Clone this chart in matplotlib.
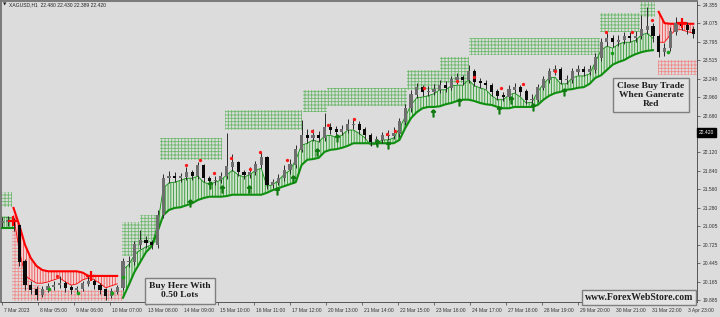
import matplotlib.pyplot as plt
import numpy as np
from matplotlib.transforms import blended_transform_factory, ScaledTranslation

plt.rcParams['hatch.linewidth'] = 0.6

BG = '#dcdcdc'

# 4-hour candles, XAGUSD H1 chart (7 Mar - 3 Apr 2023)
first_open = 21.05
closes = [21.07, 21.08, 21.01, 20.46, 20.11, 20.04, 19.96, 20.04, 20.08, 20.11,
          20.14, 20.07, 20.04, 20.05, 20.13, 20.17, 20.11, 20.04, 19.95, 20.01,
          20.07, 20.46, 20.46, 20.72, 20.79, 20.75, 20.72, 21.17, 21.73, 21.76,
          21.73, 21.75, 21.82, 21.76, 21.92, 21.73, 21.69, 21.70, 21.76, 21.90,
          21.96, 21.82, 21.78, 21.82, 21.93, 22.04, 21.63, 21.66, 21.73, 21.85,
          21.93, 22.16, 22.38, 22.34, 22.38, 22.34, 22.49, 22.46, 22.43, 22.46,
          22.54, 22.54, 22.46, 22.38, 22.28, 22.31, 22.37, 22.37, 22.40, 22.58,
          22.79, 22.99, 23.10, 23.04, 23.04, 23.07, 23.14, 23.10, 23.22, 23.25,
          23.22, 23.34, 23.19, 23.17, 23.14, 23.04, 22.98, 22.96, 23.07, 23.10,
          23.04, 22.92, 22.92, 23.10, 23.22, 23.34, 23.37, 23.22, 23.22, 23.34,
          23.37, 23.34, 23.37, 23.55, 23.79, 23.85, 23.79, 23.82, 23.88, 23.85,
          23.88, 23.98, 24.02, 23.88, 23.64, 23.70, 23.95, 24.07, 24.04, 23.98,
          23.92]
highs = [21.14, 21.16, 21.13, 21.04, 20.50, 20.18, 20.09, 20.10, 20.14, 20.17,
         20.25, 20.18, 20.11, 20.10, 20.18, 20.25, 20.21, 20.14, 20.07, 20.06,
         20.12, 20.52, 20.55, 20.78, 20.94, 20.85, 20.80, 21.25, 21.80, 21.84,
         21.82, 21.81, 21.90, 21.86, 21.97, 21.95, 21.77, 21.76, 21.83, 22.42,
         22.10, 21.99, 21.86, 21.90, 21.99, 22.12, 22.07, 21.72, 21.80, 21.93,
         22.02, 22.24, 22.61, 22.48, 22.47, 22.44, 22.72, 22.57, 22.52, 22.53,
         22.62, 22.64, 22.59, 22.50, 22.42, 22.37, 22.43, 22.46, 22.50, 22.65,
         22.86, 23.07, 23.17, 23.15, 23.12, 23.16, 23.22, 23.20, 23.28, 23.32,
         23.30, 23.44, 23.38, 23.25, 23.22, 23.18, 23.08, 23.04, 23.14, 23.18,
         23.15, 23.08, 23.00, 23.16, 23.28, 23.40, 23.44, 23.41, 23.30, 23.40,
         23.45, 23.43, 23.44, 23.62, 23.86, 23.93, 23.90, 23.90, 23.95, 23.94,
         23.96, 24.20, 24.33, 24.08, 23.92, 23.78, 24.02, 24.17, 24.12, 24.09,
         24.03]
lows = [20.99, 21.00, 20.93, 20.40, 20.03, 19.98, 19.89, 19.93, 20.00, 20.03,
        20.06, 20.01, 19.98, 19.99, 20.02, 20.09, 20.05, 19.98, 19.89, 19.92,
        19.97, 20.04, 20.38, 20.42, 20.66, 20.68, 20.66, 20.68, 21.12, 21.66,
        21.67, 21.67, 21.70, 21.70, 21.72, 21.67, 21.62, 21.63, 21.66, 21.72,
        21.84, 21.76, 21.72, 21.74, 21.78, 21.88, 21.57, 21.58, 21.62, 21.69,
        21.80, 21.89, 22.12, 22.27, 22.29, 22.28, 22.30, 22.40, 22.37, 22.38,
        22.41, 22.47, 22.40, 22.32, 22.22, 22.23, 22.26, 22.31, 22.32, 22.35,
        22.53, 22.74, 22.94, 22.98, 22.97, 22.99, 23.02, 23.04, 23.06, 23.16,
        23.15, 23.18, 23.12, 23.10, 23.08, 22.98, 22.91, 22.90, 22.92, 23.02,
        22.98, 22.86, 22.86, 22.88, 23.06, 23.18, 23.29, 23.16, 23.16, 23.18,
        23.29, 23.28, 23.30, 23.32, 23.50, 23.74, 23.72, 23.74, 23.77, 23.79,
        23.80, 23.84, 23.92, 23.80, 23.57, 23.58, 23.66, 23.90, 23.97, 23.92,
        23.86]

# band indicator: stop line (thick) and inner edge (thin), per 4h bar
green1_start = 0
green1_stop = [20.98, 20.98, 20.98]
green1_edge = [21.14, 21.14, 21.12]

red1_start = 2
red1_stop = [21.28, 21.02, 20.72, 20.52, 20.40, 20.34, 20.32, 20.32, 20.32, 20.32,
             20.32, 20.32, 20.30, 20.25, 20.25, 20.25, 20.25, 20.25, 20.25]
red1_edge = [21.16, 20.64, 20.26, 20.19, 20.14, 20.14, 20.16, 20.19, 20.22, 20.16,
             20.11, 20.13, 20.19, 20.22, 20.19, 20.14, 20.07, 20.10, 20.13]

green2_start = 21
green2_stop = [19.92, 20.11, 20.31, 20.46, 20.61, 20.70, 20.92, 21.17, 21.25, 21.28,
               21.29, 21.32, 21.35, 21.40, 21.43, 21.45, 21.45, 21.45, 21.46, 21.48,
               21.48, 21.48, 21.48, 21.48, 21.48, 21.51, 21.55, 21.58, 21.61, 21.64,
               21.67, 21.93, 22.01, 22.02, 22.04, 22.13, 22.16, 22.17, 22.19, 22.22,
               22.26, 22.26, 22.26, 22.26, 22.26, 22.26, 22.26, 22.26, 22.31, 22.49,
               22.64, 22.73, 22.79, 22.81, 22.81, 22.82, 22.85, 22.87, 22.90, 22.92,
               22.92, 22.90, 22.87, 22.85, 22.84, 22.81, 22.79, 22.79, 22.81, 22.81,
               22.81, 22.81, 22.84, 22.92, 22.98, 23.02, 23.04, 23.07, 23.08, 23.10,
               23.11, 23.16, 23.25, 23.29, 23.37, 23.45, 23.49, 23.52, 23.57, 23.61,
               23.64, 23.66, 23.67]
green2_edge = [20.34, 20.42, 20.57, 20.64, 20.69, 20.72, 21.02, 21.58, 21.66, 21.67,
               21.70, 21.73, 21.73, 21.76, 21.67, 21.64, 21.67, 21.70, 21.78, 21.85,
               21.78, 21.75, 21.78, 21.85, 21.88, 21.61, 21.63, 21.70, 21.79, 21.85,
               22.01, 22.23, 22.26, 22.31, 22.28, 22.37, 22.38, 22.35, 22.38, 22.46,
               22.46, 22.41, 22.34, 22.23, 22.25, 22.31, 22.31, 22.34, 22.49, 22.66,
               22.84, 22.95, 22.96, 22.98, 23.01, 23.07, 23.07, 23.13, 23.14, 23.14,
               23.22, 23.13, 23.10, 23.07, 22.98, 22.92, 22.92, 22.99, 23.02, 22.96,
               22.87, 22.88, 23.04, 23.16, 23.25, 23.26, 23.16, 23.16, 23.25, 23.28,
               23.28, 23.31, 23.49, 23.67, 23.73, 23.70, 23.76, 23.79, 23.79, 23.82,
               23.90, 23.93, 23.85]

red2_start = 114
red2_stop = [24.25, 24.08, 24.07, 24.07, 24.07, 24.07, 24.07]
red2_edge = [23.79, 23.79, 23.90, 23.98, 23.98, 23.95, 23.93]

# dotted target zones: (from hour, to hour, low, high)
green_zones = [(-1, 7, 21.29, 21.52), (83, 96, 20.55, 21.07), (96, 108, 20.75, 21.17),
               (110, 153, 22.01, 22.34), (155, 208, 22.46, 22.765), (209, 226, 22.73, 23.07),
               (226, 281, 22.82, 23.10), (281, 304, 23.07, 23.37), (304, 324, 23.17, 23.57),
               (324, 415, 23.60, 23.85), (415, 443, 23.945, 24.23), (443, 453.5, 24.17, 24.41)]
red_zones = [(7, 12.5, 19.87, 21.05), (12.5, 20, 19.87, 20.55), (20, 27, 19.87, 20.12),
             (27, 84, 19.87, 20.03), (455.5, 483, 23.30, 23.52)]

# signal markers (hour, price)
red_dot_h = [38.2, 127.8, 137.5, 147.2, 159, 172.2, 179.2, 198, 215.3, 226.4, 244.4,
             267.4, 272.9, 293, 316, 327.8, 346.5, 361.8, 384, 419.4, 437.5, 451.4]
red_dot_p = [20.25, 21.93, 22.00, 21.81, 22.04, 21.87, 22.13, 22.01, 22.45, 22.54, 22.62,
             22.40, 22.45, 23.09, 23.21, 23.27, 23.09, 23.16, 23.36, 23.95, 23.95, 24.12]
red_cross_h = [7.6, 61.8, 472.2]
red_cross_p = [21.08, 20.25, 24.08]
arrow_h = [130.6, 144.4, 152.8, 171.5, 191, 202, 218.8, 232.6, 260.4, 268, 299.3,
           317.4, 345.1, 353.5, 368.8, 390.3]
arrow_p = [21.355, 21.63, 21.57, 21.57, 21.54, 21.72, 22.13, 22.34, 22.26, 22.23, 22.72,
           22.885, 22.765, 22.915, 22.81, 23.04]
green_dot_h = [32.6, 52.8, 76.4, 84, 423.6, 462.5]
green_dot_p = [20.05, 19.99, 19.99, 20.23, 23.63, 23.64]

ytick_vals = [24.355, 24.075, 23.795, 23.515, 23.240, 22.960, 22.680, 22.120,
              21.840, 21.560, 21.280, 21.005, 20.725, 20.445, 20.165, 19.885]
xtick_labels = ['7 Mar 2023', '8 Mar 05:00', '9 Mar 06:00', '10 Mar 07:00', '13 Mar 08:00',
                '14 Mar 09:00', '15 Mar 10:00', '16 Mar 11:00', '17 Mar 12:00', '20 Mar 13:00',
                '21 Mar 14:00', '22 Mar 15:00', '23 Mar 16:00', '24 Mar 17:00', '27 Mar 18:00',
                '28 Mar 19:00', '29 Mar 20:00', '30 Mar 21:00', '31 Mar 22:00', '3 Apr 23:00']
last_price = 22.420

fig = plt.figure(figsize=(7.2, 3.17), dpi=100, facecolor=BG)
ax = fig.add_axes([1 / 720, 15 / 317, 696 / 720, 301 / 317], facecolor=BG)

hours = np.arange(len(closes)) * 4
opens = np.array([first_open] + closes[:-1])
closes_a = np.array(closes)

# zones
for h0, h1, lo, hi in green_zones:
    ax.fill_between([h0, h1], [lo, lo], [hi, hi], facecolor='none', edgecolor='#6dba6d',
                    hatch='+++++', linewidth=0, zorder=1)
for h0, h1, lo, hi in red_zones:
    ax.fill_between([h0, h1], [lo, lo], [hi, hi], facecolor='none', edgecolor='#f08c8c',
                    hatch='+++++', linewidth=0, zorder=1)

# bands
def band(start, stop, edge, up):
    x = hours[start:start + len(stop)]
    if up:
        face, hcol, line = '#d0e4d0', '#2f942f', '#0f8f0f'
    else:
        face, hcol, line = '#f3d3d3', '#ec4c4c', '#ff0000'
    ax.fill_between(x, stop, edge, facecolor=face, edgecolor=hcol, hatch='||||||',
                    linewidth=0, zorder=2)
    ax.plot(x, edge, color=line, lw=0.6, zorder=3)
    ax.plot(x, stop, color=line, lw=1.5, zorder=3)

band(green1_start, green1_stop, green1_edge, True)
band(red1_start, red1_stop, red1_edge, False)
band(green2_start, green2_stop, green2_edge, True)
band(red2_start, red2_stop, red2_edge, False)

# candles
up = closes_a >= opens
ax.vlines(hours, lows, highs, color='#2a2a2a', lw=0.7, zorder=4)
ax.bar(hours, np.abs(closes_a - opens) + 0.01, bottom=np.minimum(opens, closes_a), width=2.2,
       color=np.where(up, '#6e6e6e', '#0a0a0a'), linewidth=0, zorder=5)

# markers
ax.plot(red_dot_h, red_dot_p, 'o', ms=2.4, color='#ff1a1a', mec='none', zorder=6)
ax.plot(red_cross_h, red_cross_p, '+', ms=7, mew=1.6, color='#ff0000', zorder=6)
ax.plot(arrow_h, arrow_p, ls='none', marker=r'$\uparrow$', ms=5, color='#117a11', zorder=6)
ax.plot(green_dot_h, green_dot_p, 'o', ms=2.6, color='#18a018', mec='none', zorder=6)

ax.set_xlim(-0.69, 482.6)
ax.set_ylim(19.855, 24.415)

# axes styling
ax.yaxis.tick_right()
ax.set_yticks(ytick_vals)
ax.set_yticklabels(['%.3f' % v for v in ytick_vals])
ax.set_xticks(np.arange(len(xtick_labels)) * 25)
ax.set_xticklabels(xtick_labels)
ax.tick_params(axis='both', labelsize=3.6, labelcolor='#333333', color='#404040',
               length=2.5, width=0.5, pad=1.5, direction='out')
off = ScaledTranslation(1.5 / 72, 0, fig.dpi_scale_trans)
for lbl in ax.get_xticklabels():
    lbl.set_ha('left')
    lbl.set_fontfamily('Liberation Sans')
    lbl.set_transform(lbl.get_transform() + off)
for lbl in ax.get_yticklabels():
    lbl.set_fontfamily('Liberation Sans')
for s in ['left', 'top']:
    ax.spines[s].set_color('#7a7a7a')
    ax.spines[s].set_linewidth(1.4)
for s in ['right', 'bottom']:
    ax.spines[s].set_color('#404040')
    ax.spines[s].set_linewidth(0.6)

tr = blended_transform_factory(ax.transAxes, ax.transData)
ax.text(1.003, last_price, '%.3f' % last_price, transform=tr, fontsize=3.6, color='white',
        family='Liberation Sans', va='center', ha='left',
        bbox=dict(boxstyle='square,pad=0.35', fc='black', ec='black'), zorder=10)

fig.text(0.004, 1 - 4.5 / 317, '\u25bc', fontsize=3.2, color='#222222', va='center')
fig.text(0.013, 1 - 4.5 / 317, 'XAGUSD,H1  22.480 22.430 22.389 22.420', fontsize=3.6,
         color='#222222', va='center', family='Liberation Sans')

box = dict(boxstyle='square,pad=0.45', fc='#e3e3e3', ec='#7f7f7f', lw=1)
fig.text(180 / 720, 1 - 290.5 / 317, 'Buy Here With\n0.50 Lots', ha='center', va='center',
         fontsize=6.8, fontweight='bold', family='Liberation Serif', color='#1e1e1e',
         linespacing=1.25, bbox=box, zorder=10)
fig.text(651 / 720, 1 - 95 / 317, 'Close Buy Trade\nWhen Ganerate\nRed', ha='center',
         va='center', fontsize=6.8, fontweight='bold', family='Liberation Serif',
         color='#1e1e1e', linespacing=1.2, bbox=box, zorder=10)
fig.text(639 / 720, 1 - 297.5 / 317, 'www.ForexWebStore.com', ha='center', va='center',
         fontsize=7, fontweight='bold', family='Liberation Serif', color='#1e1e1e',
         bbox=dict(boxstyle='square,pad=0.3', fc='#e3e3e3', ec='#7f7f7f', lw=1), zorder=10)

fig.savefig('out.png', dpi=100, facecolor=BG)
